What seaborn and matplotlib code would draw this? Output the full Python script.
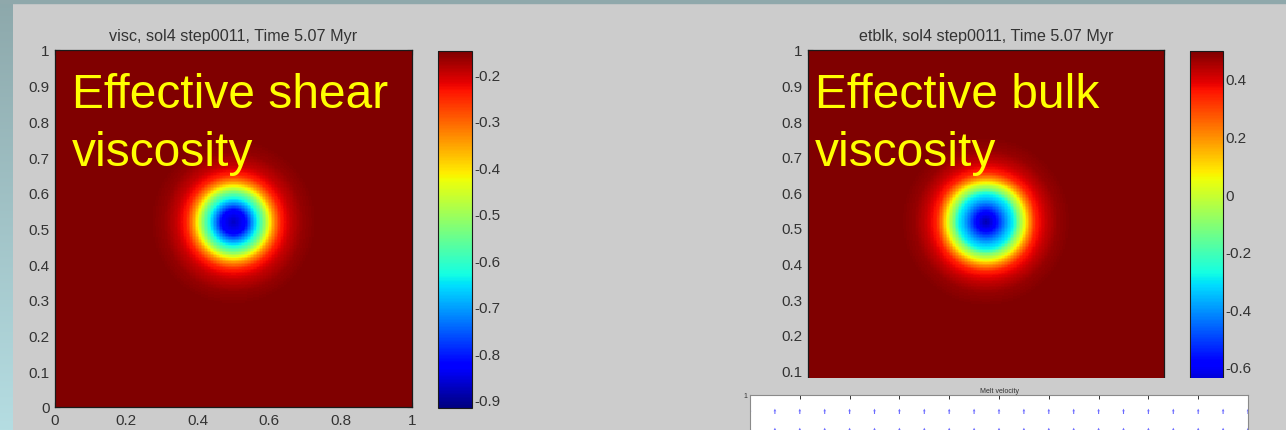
import numpy as np
import pandas as pd
import matplotlib
matplotlib.use("Agg")
import matplotlib.pyplot as plt
from matplotlib.patches import Rectangle
import seaborn as sns

# ---- field data -------------------------------------------------------------
# Radial profiles of the two viscosity anomalies: distance from the anomaly
# centre (model units) and the log-viscosity value at that distance.
shear_radius = [0.0, 0.034, 0.050, 0.067, 0.084, 0.098, 0.112, 0.132, 0.160, 0.195, 0.235, 0.80]
shear_value = [-0.872, -0.822, -0.726, -0.630, -0.534, -0.438, -0.342, -0.246, -0.196, -0.165, -0.150, -0.150]

bulk_radius = [0.0, 0.028, 0.051, 0.065, 0.079, 0.090, 0.107, 0.121, 0.140, 0.170, 0.200, 0.240, 0.80]
bulk_value = [-0.687, -0.582, -0.428, -0.341, -0.274, -0.120, 0.035, 0.189, 0.343, 0.423, 0.472, 0.497, 0.497]

anomaly_centre_x = 0.50
anomaly_centre_y = 0.518

shear_limits = [-0.918, -0.150]
bulk_limits = [-0.736, 0.497]

shear_cbar_ticks = [-0.9, -0.8, -0.7, -0.6, -0.5, -0.4, -0.3, -0.2]
bulk_cbar_ticks = [-0.6, -0.4, -0.2, 0.0, 0.2, 0.4]

x_ticks = [0, 0.2, 0.4, 0.6, 0.8, 1]
y_ticks = [0, 0.1, 0.2, 0.3, 0.4, 0.5, 0.6, 0.7, 0.8, 0.9, 1]

shear_title = "visc, sol4 step0011, Time 5.07 Myr"
bulk_title = "etblk, sol4 step0011, Time 5.07 Myr"
shear_label = ["Effective shear", "viscosity"]
bulk_label = ["Effective bulk", "viscosity"]

# Melt velocity vectors (upward, uniform) on the coarse grid
melt_x = [0.00, 0.05, 0.10, 0.15, 0.20, 0.25, 0.30, 0.35, 0.40, 0.45, 0.50,
          0.55, 0.60, 0.65, 0.70, 0.75, 0.80, 0.85, 0.90, 0.95, 1.00]
melt_y = [0.95, 0.90, 0.85]
melt_u = [0.0, 0.0, 0.0]
melt_v = [0.014, 0.014, 0.014]

# ---- figure -----------------------------------------------------------------
W, H = 1286, 431
GREY = "#cccccc"

sns.set_theme(style="white")
plt.rcParams["font.family"] = ["Liberation Sans", "DejaVu Sans"]

fig = plt.figure(figsize=(W / 100, H / 100), dpi=100, facecolor=GREY)


def rect(x0, y0, x1, y1):
    return [x0 / W, (H - y1) / H, (x1 - x0) / W, (y1 - y0) / H]


# slide frame: gradient strip on the left, band along the top
strip = fig.add_axes(rect(0, 0, 12, H), zorder=-5)
grad = np.linspace(0, 1, 256)[:, None, None]
top_c = np.array([141, 168, 171]) / 255
bot_c = np.array([181, 221, 226]) / 255
strip.imshow(top_c + grad * (bot_c - top_c), aspect="auto", extent=[0, 1, 0, 1])
strip.axis("off")
fig.add_artist(Rectangle((0, (H - 4) / H), 1, 4 / H, transform=fig.transFigure,
                         color="#8fa8ab", zorder=-4))

N = 240
centres = (np.arange(N) + 0.5) / N
gx, gy = np.meshgrid(centres, 1 - centres)  # row 0 is the top of the domain
dist = np.hypot(gx - anomaly_centre_x, gy - anomaly_centre_y)

TXT = "#333333"


def field_panel(ax_rect, cax_rect, radius, value, limits, cticks, title, label, label_x):
    ax = fig.add_axes(rect(*ax_rect))
    cax = fig.add_axes(rect(*cax_rect))
    grid = pd.DataFrame(np.interp(dist, radius, value))
    sns.heatmap(grid, ax=ax, cbar_ax=cax, cmap="jet", vmin=limits[0], vmax=limits[1],
                xticklabels=False, yticklabels=False, rasterized=True)
    ax.set_xticks([v * N for v in x_ticks])
    ax.set_xticklabels([f"{v:g}" for v in x_ticks])
    ax.set_yticks([(1 - v) * N for v in y_ticks])
    ax.set_yticklabels([f"{v:g}" for v in y_ticks], rotation=0)
    ax.tick_params(direction="in", length=3.5, width=0.8, color="#222222",
                   top=True, right=True, bottom=True, left=True,
                   labelsize=11, labelcolor=TXT, pad=4)
    for sp in ax.spines.values():
        sp.set_visible(True)
        sp.set_color("#1a1a1a")
        sp.set_linewidth(0.9)
    ax.set_title(title, fontsize=11.6, color=TXT, pad=7)

    cbar = ax.collections[0].colorbar
    cbar.set_ticks(cticks)
    cbar.set_ticklabels([f"{v:g}" for v in cticks])
    cbar.ax.tick_params(direction="in", length=3, width=0.8, color="#222222",
                        left=True, right=True, labelsize=11, labelcolor=TXT, pad=2)
    cbar.outline.set_edgecolor("#1a1a1a")
    cbar.outline.set_linewidth(0.8)

    fig.text(label_x / W, (H - 108) / H, label[0], color="#ffff00", fontsize=34.5)
    fig.text(label_x / W, (H - 166) / H, label[1], color="#ffff00", fontsize=34.5)
    return ax


field_panel((55, 51, 412, 408), (438, 52, 472, 409), shear_radius, shear_value,
            shear_limits, shear_cbar_ticks, shear_title, shear_label, 72)
field_panel((808, 51, 1164, 407), (1190, 52, 1223, 407), bulk_radius, bulk_value,
            bulk_limits, bulk_cbar_ticks, bulk_title, bulk_label, 815)

# lower-right figure window showing the melt velocity
cover = fig.add_axes(rect(700, 379, W, H + 2), zorder=5)
cover.set_facecolor(GREY)
cover.set_xticks([])
cover.set_yticks([])
for sp in cover.spines.values():
    sp.set_visible(False)

qax = fig.add_axes(rect(750, 396, 1248, 776), zorder=6)
qax.set_facecolor("white")
QX, QY = np.meshgrid(melt_x, melt_y)
QU = np.repeat(np.array(melt_u)[:, None], len(melt_x), axis=1)
QV = np.repeat(np.array(melt_v)[:, None], len(melt_x), axis=1)
qax.quiver(QX, QY, QU, QV, angles="xy", scale_units="xy", scale=1,
           color="#6a6aff", width=0.0022, headwidth=2.5, headlength=2.5,
           headaxislength=2.2)
qax.set_xlim(0, 1)
qax.set_ylim(0, 1)
qax.set_xticks(np.arange(0, 1.01, 0.1))
qax.set_xticklabels([])
qax.set_yticks([1.0])
qax.set_yticklabels(["1"])
qax.tick_params(direction="in", length=3, width=0.7, color="#333333",
                top=True, bottom=False, left=False, labelsize=5, labelcolor=TXT, pad=2)
for sp in qax.spines.values():
    sp.set_color("#8a8a8a")
    sp.set_linewidth(0.8)
qax.set_title("Melt velocity", fontsize=5, color=TXT, pad=2.5)

fig.savefig("out.png", dpi=100, facecolor=GREY)
